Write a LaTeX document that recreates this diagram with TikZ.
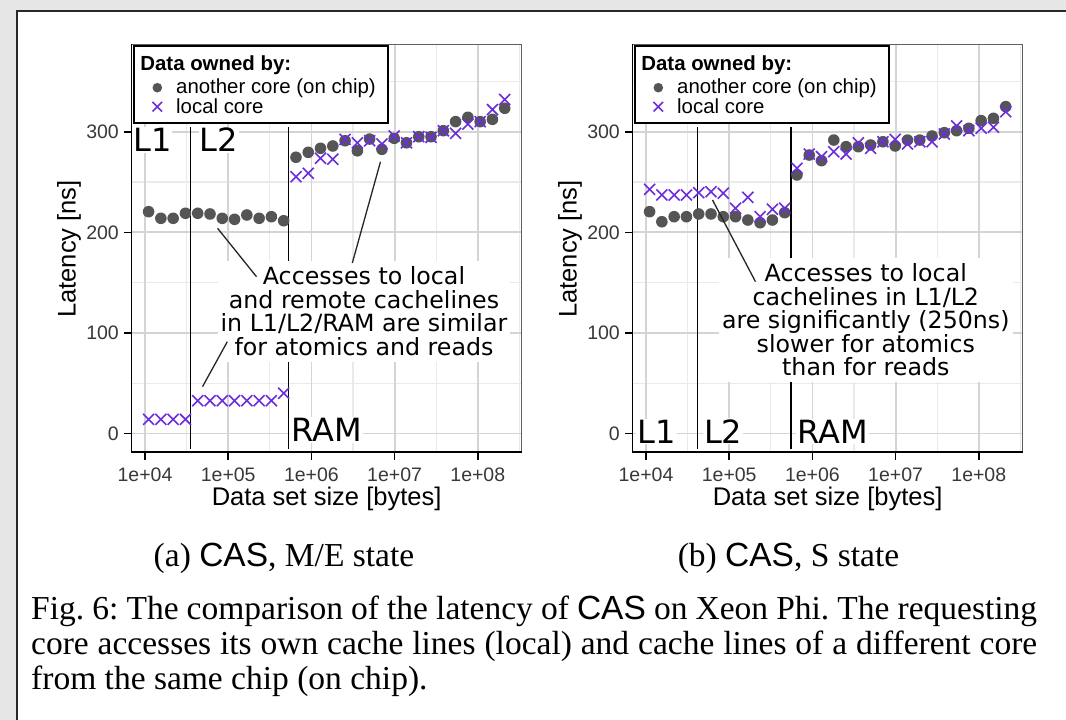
\documentclass[tikz,border=0pt]{standalone}
\usepackage{fontspec}
\setmainfont{Liberation Serif}
\setsansfont{Liberation Sans}
\newfontfamily\plotfont{Liberation Sans}
\newfontfamily\notefont{DejaVu Sans}

\definecolor{dotgray}{RGB}{85,85,85}
\definecolor{localviolet}{RGB}{108,45,220}
\definecolor{gridmajor}{RGB}{212,212,212}
\definecolor{gridminor}{RGB}{234,234,234}
\definecolor{edgegray}{RGB}{95,95,95}
\definecolor{shadegray}{RGB}{230,230,230}
\definecolor{framedark}{RGB}{40,40,40}

\newcommand\notesize{\notefont\fontsize{23.7}{23.5}\selectfont\lineskiplimit=-30pt\relax}
\newcommand\ticksize{\plotfont\fontsize{19.5}{22}\selectfont}
\newcommand\titlesize{\plotfont\fontsize{25.5}{28}\selectfont}
\newcommand\legendsize{\plotfont\fontsize{20.4}{24}\selectfont}
\newcommand\levelsize{\notefont\fontsize{32}{36}\selectfont}

\tikzset{
  majorgrid/.style={draw=gridmajor, line width=1.8pt},
  minorgrid/.style={draw=gridminor, line width=1.1pt},
  paneledge/.style={draw=edgegray, line width=1.5pt},
  axisline/.style={draw=black, line width=1.6pt},
  ticklabel/.style={font=\ticksize, text=black!78, inner sep=0pt},
  axistitle/.style={font=\titlesize, inner sep=0pt, anchor=base},
  levelline/.style={draw=black, line width=1.5pt},
  levellabel/.style={font=\levelsize, fill=white, inner sep=1pt, anchor=base west},
  notebox/.style={font=\notesize, align=center, fill=white, inner xsep=3pt, inner ysep=6pt, anchor=north},
  leader/.style={draw=black!85, line width=1.3pt},
  legendframe/.style={draw=black, line width=1.8pt, fill=white, inner sep=0pt, anchor=north west, minimum width=254pt, minimum height=77pt},
  legendhead/.style={font=\legendsize\bfseries, inner sep=0pt, anchor=base west},
  legendtext/.style={font=\legendsize, inner sep=0pt, anchor=base west},
  dotmark/.style={fill=dotgray},
  crossmark/.style={draw=localviolet, line width=1.6pt},
  subcap/.style={font=\fontsize{33.5}{36}\selectfont, inner sep=0pt, anchor=base},
}

% measurement index -> page x, latency [ns] -> page y (same for both panels)
\newcommand\dotat[2]{\fill[dotmark] ({148.6+12.28*#1},{433.5-1.006*#2}) circle (5.8pt);}
\newcommand\crossat[2]{\draw[crossmark, shift={({148.6+12.28*#1},{433.5-1.006*#2})}] (-5.5,-5.5) -- (5.5,5.5) (-5.5,5.5) -- (5.5,-5.5);}

% background grid of one panel (log x axis, linear y axis)
\newcommand\panelgrid{%
  \foreach \gx in {186.6,269.8,353.0,436.2,519.4} \draw[minorgrid] (\gx,44.3) -- (\gx,451.7);
  \foreach \gy in {383.2,282.6,182.0,81.4} \draw[minorgrid] (131.5,\gy) -- (521.7,\gy);
  \foreach \gx in {145,228.2,311.4,394.6,477.8} \draw[majorgrid] (\gx,44.3) -- (\gx,451.7);
  \foreach \gy in {433.5,332.9,232.3,131.7} \draw[majorgrid] (131.5,\gy) -- (521.7,\gy);
}

% border, axes, ticks, titles and legend of one panel
\newcommand\panelaxes[1]{%
  \draw[paneledge] (131.5,44.3) rectangle (521.7,451.7);
  \draw[axisline] (131.5,44.3) -- (131.5,451.7) -- (521.7,451.7);
  \foreach \val/\gy in {0/433.5,100/332.9,200/232.3,300/131.7} {
    \draw[axisline] (124,\gy) -- (131.5,\gy);
    \node[ticklabel, anchor=east] (#1-y\val) at (119,\gy) {\val};
  }
  \foreach \ex/\gx in {04/145,05/228.2,06/311.4,07/394.6,08/477.8} {
    \draw[axisline] (\gx,451.7) -- (\gx,459.5);
    \node[ticklabel, anchor=north] (#1-x\ex) at (\gx,467.5) {1e+\ex};
  }
  \node[axistitle] (#1-xtitle) at (326.6,505) {Data set size [bytes]};
  \node[axistitle, rotate=90] (#1-ytitle) at (75.6,249) {Latency [ns]};
  \node[legendframe] (#1-legend) at (133.3,45) {};
  \node[legendhead] (#1-leghead) at (140.2,70.5) {Data owned by:};
  \fill[dotmark] (157.3,87.7) circle (4.8pt);
  \node[legendtext] (#1-legdot) at (176,93.3) {another core (on chip)};
  \draw[crossmark, shift={(157.3,106.7)}] (-4.8,-4.8) -- (4.8,4.8) (-4.8,4.8) -- (4.8,-4.8);
  \node[legendtext] (#1-legcross) at (176,113.3) {local core};
}

\begin{document}
\begin{tikzpicture}[x=1pt, y=-1pt]
\useasboundingbox (0,0) rectangle (1066,720);
\fill[shadegray] (0,0) rectangle (1066,720);
\fill[white] (16.7,11) rectangle (1066,720);
\draw[framedark, line width=1.6pt] (16.7,720) -- (16.7,11) -- (1066,11);

% ---------------- panel (a): CAS, M/E state ----------------
\begin{scope}
  \panelgrid
  \draw[levelline] (190.3,127) -- (190.3,448.5);
  \draw[levelline] (288.5,127) -- (288.5,448.5);
  \foreach \idx/\lat in {0/220.5,1/213.9,2/213.9,3/218.9,4/218.9,5/218.2,6/213.9,7/212.9,8/217.2,9/213.9,10/215.5,11/211.5,12/274.6,13/279.5,14/283.5,15/285.8,16/291,17/281,18/292.7,19/282.5,20/293.4,21/289,22/295,23/295,24/301,25/310,26/314.3,27/310,28/312.3,29/323.3}
    {\dotat{\idx}{\lat}}
  \foreach \idx/\lat in {0/14.1,1/14.1,2/14.1,3/14.1,4/32.6,5/32.6,6/32.6,7/32.6,8/32.6,9/32.6,10/32.6,11/40,12/255.3,13/258.6,14/273.6,15/272.6,16/292.4,17/289,18/291,19/287.8,20/295.7,21/289,22/295,23/294.4,24/301,25/298.4,26/307.6,27/310,28/322,29/332}
    {\crossat{\idx}{\lat}}
  \node[notebox] (a-note) at (364,260.5) {Accesses to local\\and remote cachelines\\in L1/L2/RAM are similar\\for atomics and reads};
  \coordinate (a-remote) at (217.6,228.3);
  \coordinate (a-remotetip) at (256.5,276.7);
  \coordinate (a-ram) at (380.5,161.7);
  \coordinate (a-ramtip) at (352.3,263);
  \coordinate (a-local) at (202.5,386.7);
  \coordinate (a-localtip) at (227.3,341.7);
  \draw[leader] (a-remote) -- (a-remotetip);
  \draw[leader] (a-ram) -- (a-ramtip);
  \draw[leader] (a-local) -- (a-localtip);
  \node[levellabel] (a-L1) at (132,151.7) {L1};
  \node[levellabel] (a-L2) at (198.6,151.7) {L2};
  \node[levellabel] (a-RAM) at (290.2,441.7) {RAM};
  \panelaxes{a}
\end{scope}

% ---------------- panel (b): CAS, S state ----------------
\begin{scope}[xshift=501pt]
  \panelgrid
  \draw[levelline] (196.5,127) -- (196.5,448.5);
  \draw[levelline] (290,127) -- (290,448.5);
  \foreach \idx/\lat in {0/220.5,1/210.5,2/215.5,3/215.5,4/218.2,5/218.2,6/215.5,7/215.5,8/212.2,9/209.5,10/212.2,11/219.5,12/257,13/276.8,14/271.2,15/291.7,16/285.1,17/285.1,18/286.8,19/290,20/285.8,21/291.7,22/291.7,23/295.7,24/299,25/301,26/303.4,27/311,28/313.3,29/324.9}
    {\dotat{\idx}{\lat}}
  \foreach \idx/\lat in {0/242.7,1/237.1,2/237.1,3/237.1,4/239.4,5/240.4,6/238.8,7/223.9,8/234.8,9/215.5,10/222.9,11/223.9,12/263.6,13/277.8,14/275.2,15/280.1,16/277.8,17/289,18/283.5,19/290,20/292.4,21/287.8,22/290,23/290,24/297.7,25/305.7,26/301,27/303.4,28/304.4,29/319.9}
    {\crossat{\idx}{\lat}}
  \node[notebox] (b-note) at (364.8,257.7) {Accesses to local\\cachelines in L1/L2\\are significantly (250ns)\\slower for atomics\\than for reads};
  \coordinate (b-local) at (211.5,200);
  \coordinate (b-localtip) at (254.5,281.7);
  \draw[leader] (b-local) -- (b-localtip);
  \node[levellabel] (b-L1) at (135.2,443) {L1};
  \node[levellabel] (b-L2) at (201.9,443) {L2};
  \node[levellabel] (b-RAM) at (295.2,443) {RAM};
  \panelaxes{b}
\end{scope}

% ---------------- captions ----------------
\node[subcap] (cap-a) at (284,566) {(a) \textsf{CAS}, M/E state};
\node[subcap] (cap-b) at (788.5,566) {(b) \textsf{CAS}, S state};
\node[anchor=north west, text width=1006pt, align=justify, inner sep=0pt,
      font=\fontsize{33.5}{35}\selectfont] (caption) at (31,595.5)
  {\frenchspacing\noindent Fig.~6: The comparison of the latency of \textsf{CAS} on Xeon Phi. The requesting\linebreak
   core accesses its own cache lines (local) and cache lines of a different core\linebreak
   from the same chip (on chip).};
\end{tikzpicture}
\end{document}
